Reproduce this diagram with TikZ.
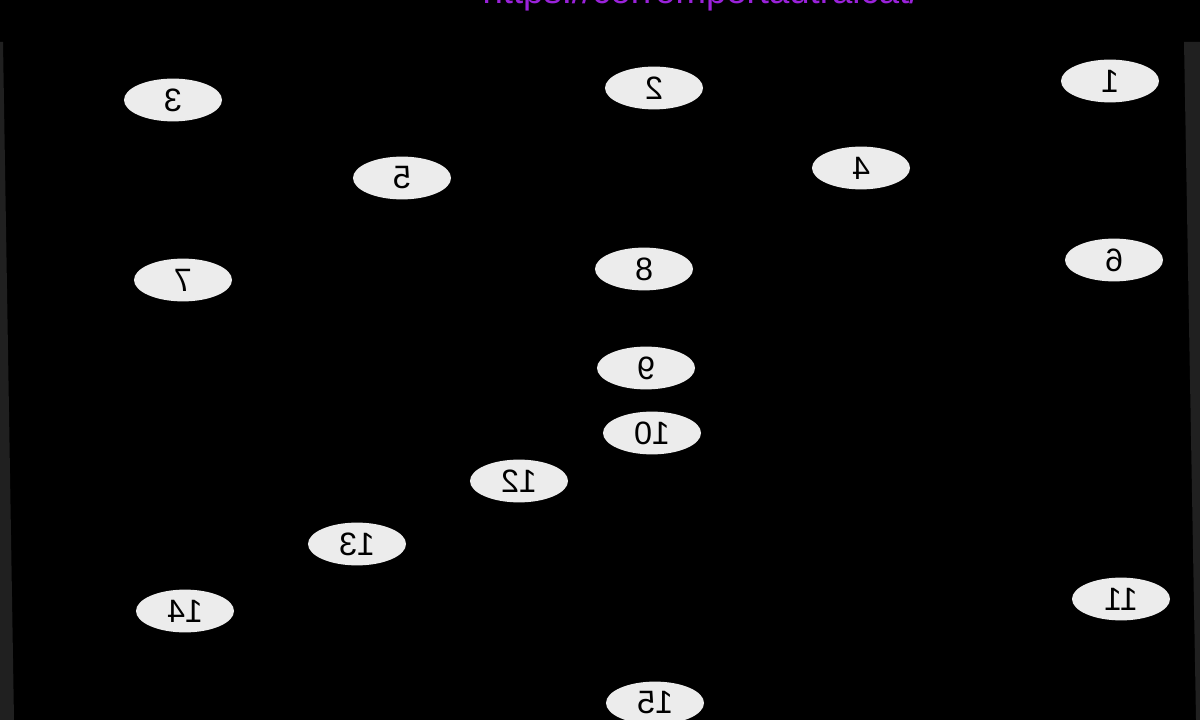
\documentclass[tikz,border=0pt]{standalone}
\usepackage{fontspec}
\setmainfont{Liberation Sans}
\usepackage{xcolor}
\usetikzlibrary{shapes.geometric}
\definecolor{urlpurple}{HTML}{9A22DA}
\definecolor{edgegray}{HTML}{202020}
\definecolor{nodefill}{HTML}{ECECEC}
\tikzset{
    num/.style={ellipse, fill=nodefill, minimum width=2.45cm, minimum height=1.07cm, inner sep=0pt,
        font=\fontsize{23}{25}\selectfont, text=black},
}
\newcommand{\mirr}[1]{\reflectbox{#1}}

\begin{document}
\begin{tikzpicture}[x=0.025cm, y=-0.025cm]
        %BACKGROUND
        \fill[black] (0,0) rectangle (1200,720);
        \useasboundingbox (0,0) rectangle (1200,720);

        %EDGES
        \fill[edgegray] (0,42) -- (3,42) -- (14,720) -- (0,720) -- cycle;
        \fill[edgegray] (1184,42) -- (1200,42) -- (1200,720) -- (1196,720) -- cycle;

        %URL
        \node[anchor=base, text=urlpurple, font=\fontsize{26}{28}\selectfont, inner sep=0pt] (url) at (701,4) {https://corrompertautralcat/};

        %NODES
        \node[num] (n1) at (1110,81) {\mirr{1}};
        \node[num] (n2) at (654,88) {\mirr{2}};
        \node[num] (n3) at (173,100) {\mirr{3}};
        \node[num] (n4) at (861,168) {\mirr{4}};
        \node[num] (n5) at (402,178) {\mirr{5}};
        \node[num] (n6) at (1114,260) {\mirr{6}};
        \node[num] (n7) at (183,280) {\mirr{7}};
        \node[num] (n8) at (644,269) {\mirr{8}};
        \node[num] (n9) at (646,368) {\mirr{9}};
        \node[num] (n10) at (652,433) {\mirr{10}};
        \node[num] (n11) at (1121,599) {\mirr{11}};
        \node[num] (n12) at (519,481) {\mirr{12}};
        \node[num] (n13) at (357,544) {\mirr{13}};
        \node[num] (n14) at (185,611) {\mirr{14}};
        \node[num] (n15) at (655,703) {\mirr{15}};
    \end{tikzpicture}
\end{document}
